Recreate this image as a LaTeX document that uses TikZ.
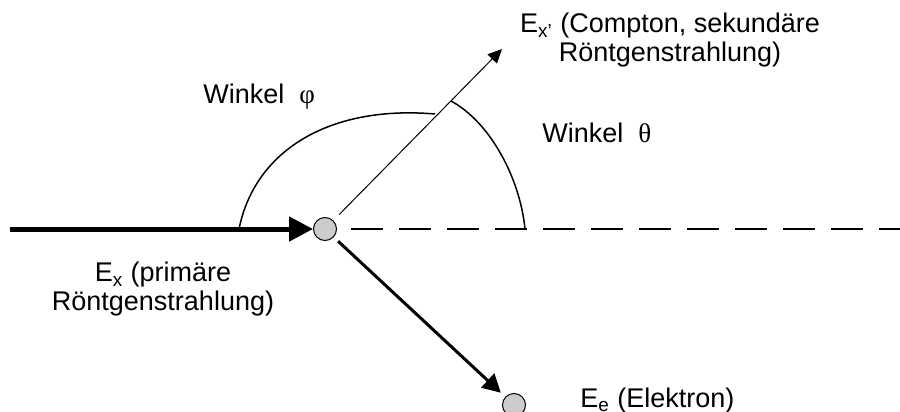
\documentclass[tikz,border=0pt]{standalone}
\usepackage{fontspec}
\setmainfont{Liberation Sans}
\newfontfamily\greekfont{Liberation Serif}
\usetikzlibrary{arrows.meta,calc}

\begin{document}
\begin{tikzpicture}[x=0.5pt, y=-0.5pt,
	every node/.style={font=\fontsize{13.5}{14.5}\selectfont, inner sep=0},
	particle/.style={draw, circle, fill=black!20, line width=0.5pt, minimum size=11.5pt},
	anglearc/.style={line width=0.75pt}]
	\useasboundingbox (0,0) rectangle (900,412);
		\node [particle] (0) at (325, 229) {}; %scattering point
		\node [particle] (1) at (514, 405) {}; %electron
		\coordinate (2) at (10, 229); %incoming
		\coordinate (3) at (502, 49); %scattered
		\coordinate (4) at (900, 229); %straight on
		\coordinate (5) at (239, 229); %phi start
		\coordinate (6) at (435, 114); %phi end
		\coordinate (7) at (451, 101); %theta start
		\coordinate (8) at (525, 229); %theta end
		\node [anchor=north, align=center] (ex1) at (670, 13) {E\textsubscript{x'} (Compton, sekundäre\\Röntgenstrahlung)};
		\node [anchor=base west] (phi) at (203, 103) {Winkel\ \ {\greekfont φ}};
		\node [anchor=base west] (theta) at (542, 142) {Winkel\ \ {\greekfont θ}};
		\node [anchor=north, align=center] (ex) at (163, 262) {E\textsubscript{x} (primäre\\Röntgenstrahlung)};
		\node [anchor=base west] (ee) at (580, 407) {E\textsubscript{e} (Elektron)};
		\draw [line width=2.5pt, -{Triangle[length=12pt, width=12pt]}] (2) to (0);
		\draw [line width=0.5pt, shorten <=4pt, -{Triangle[length=7pt, width=6.5pt]}] (0) to (3);
		\draw [line width=1.5pt, shorten <=3pt, shorten >=3pt, -{Triangle[length=9pt, width=9.5pt]}] (0) to (1);
		\draw [line width=1pt, shorten <=7pt, dash pattern=on 16pt off 8pt] (0) to (4);
		\draw [anglearc] (5) .. controls (255, 150) and (330, 105) .. (6);
		\draw [anglearc] (7) .. controls (490, 122) and (520, 178) .. (8);
\end{tikzpicture}
\end{document}
